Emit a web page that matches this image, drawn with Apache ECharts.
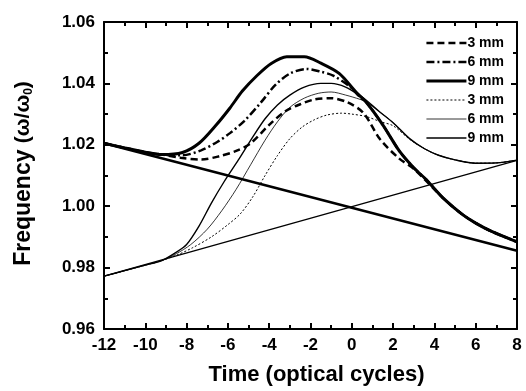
<!DOCTYPE html>
<html lang="en">
<head>
    <meta charset="utf-8" />
    <title>Frequency vs time</title>
    <script src="https://cdn.jsdelivr.net/npm/echarts@6/dist/echarts.min.js"></script>
    <style>
        html, body { margin: 0; height: 100%; background: #FFFFFF; }
        #chart { width: 526px; height: 391px; }
    </style>
</head>
<body>
<div id="chart"></div>
<script>
// time axis (optical cycles) and frequency (w/w0)
var xTicks = [-12, -10, -8, -6, -4, -2, 0, 2, 4, 6, 8];
var yTicks = [0.96, 0.98, 1.00, 1.02, 1.04, 1.06];

// initial chirp lines
var chirpDown = [[-12, 1.0205], [8, 0.9855]];
var chirpUp = [[-12, 0.9772], [8, 1.0149]];

// thick group (starts on the falling line)
var thickHead = [[-12, 1.0205], [-11, 1.019], [-10, 1.0176], [-9.2, 1.0168]];
var thickTail = [[1.5, 1.0265], [2.3, 1.018], [3.0, 1.0125], [3.6, 1.0087], [4.4, 1.0028],
    [5.3, 0.9976], [6.0, 0.9945], [6.8, 0.9917], [8, 0.9884]];
var thick3 = [[-8.3, 1.0158], [-7.3, 1.0152], [-6.4, 1.0163], [-5.6, 1.018], [-4.9, 1.0205],
    [-4.0, 1.0265], [-3.2, 1.031], [-2.5, 1.0332], [-1.8, 1.0348], [-1.0, 1.0352], [-0.2, 1.0338],
    [0.56, 1.0304], [1.37, 1.0218], [2.3, 1.0155], [3.0, 1.0122]];
var thick6 = [[-8.2, 1.0166], [-7.3, 1.0182], [-6.5, 1.021], [-5.9, 1.0238], [-5.2, 1.0278],
    [-4.4, 1.0338], [-3.7, 1.0395], [-3.0, 1.0432], [-2.2, 1.0447], [-1.5, 1.0438], [-0.9, 1.0425],
    [-0.1, 1.039], [0.4, 1.0355], [0.72, 1.0337]];
var thick9 = [[-8.2, 1.0175], [-7.4, 1.0205], [-6.6, 1.0262], [-5.9, 1.032], [-5.3, 1.0375],
    [-4.6, 1.0425], [-3.9, 1.0465], [-3.15, 1.0487], [-2.3, 1.0487], [-1.5, 1.0466], [-0.6, 1.0432],
    [0.2, 1.0372], [0.72, 1.0337]];

// thin group (starts on the rising line)
var thinHead = [[-12, 0.9772], [-11, 0.979], [-10, 0.9808], [-9.2, 0.9823]];
var thinTail = [[3.5, 1.0188], [4.2, 1.0166], [5.0, 1.0151], [6.0, 1.014], [7.0, 1.0141], [8, 1.015]];
var thin3 = [[-8.5, 0.984], [-7.7, 0.9865], [-6.8, 0.99], [-6.0, 0.994], [-5.4, 0.9975],
    [-4.8, 1.003], [-4.2, 1.01], [-3.6, 1.0165], [-3.0, 1.022], [-2.4, 1.0258], [-1.8, 1.0282],
    [-1.2, 1.0297], [-0.5, 1.0303], [0, 1.03], [0.7, 1.0292], [1.4, 1.0275], [2.0, 1.0262], [2.8, 1.0218]];
var thin6 = [[-8.5, 0.9845], [-7.8, 0.9875], [-7.0, 0.9925], [-6.3, 0.9985], [-5.6, 1.0055],
    [-4.9, 1.0135], [-4.2, 1.0215], [-3.6, 1.0275], [-3.0, 1.0322], [-2.3, 1.0352], [-1.6, 1.0368],
    [-1.0, 1.0372], [-0.3, 1.0362], [0.4, 1.0348], [0.7, 1.034], [1.3, 1.031], [2.0, 1.0272], [2.8, 1.022]];
var thin9 = [[-8.5, 0.985], [-8.0, 0.9875], [-7.4, 0.9935], [-6.8, 1.001], [-6.2, 1.0078],
    [-5.5, 1.015], [-4.8, 1.0225], [-4.2, 1.0285], [-3.6, 1.033], [-3.0, 1.0362], [-2.3, 1.0388],
    [-1.5, 1.04], [-1.0, 1.04], [-0.3, 1.0388], [0.4, 1.036], [0.7, 1.0345], [1.3, 1.031],
    [2.0, 1.0272], [2.8, 1.022]];

var legendNames = ['3 mm', '6 mm', '9 mm', '3 mm ', '6 mm ', '9 mm '];
var lineWidths = [2.5, 2.5, 3, 1, 0.8, 1.4];
var lineTypes = [[7, 4], [8, 3, 2, 3], 'solid', [2, 2], 'solid', 'solid'];
var FONT = 'Liberation Sans';

function curve(i, data) {
    return {
        name: legendNames[i],
        type: 'line',
        data: data,
        symbol: 'none',
        smooth: 0.3,
        silent: true,
        itemStyle: { color: '#000' },
        lineStyle: { color: '#000', width: lineWidths[i], type: lineTypes[i] }
    };
}

function chirp(name, data, width) {
    return {
        name: name, type: 'line', data: data, symbol: 'none', silent: true,
        lineStyle: { color: '#000', width: width }
    };
}

var chart = echarts.init(document.getElementById('chart'));

var axisCommon = {
    type: 'value',
    axisLine: { show: true, onZero: false, lineStyle: { color: '#000', width: 2 } },
    axisTick: { show: true, inside: true, length: 6, lineStyle: { color: '#000', width: 2 } },
    minorTick: { show: true, splitNumber: 2, length: 4, lineStyle: { color: '#000', width: 2 } },
    splitLine: { show: false }
};

chart.setOption({
    animation: false,
    grid: { left: 104, right: 9, top: 22, bottom: 60 },
    legend: {
        data: legendNames.map(function (n, i) {
            return { name: n, lineStyle: { color: '#000', width: lineWidths[i], type: lineTypes[i] } };
        }),
        orient: 'vertical',
        right: 17,
        top: 31,
        itemWidth: 40,
        itemHeight: 12,
        itemGap: 5,
        itemStyle: { opacity: 0 },
        textStyle: { fontFamily: FONT, fontWeight: 'bold', fontSize: 14, color: '#000', padding: [0, 0, 0, -4] },
        formatter: function (n) { return n.trim(); },
        selectedMode: false
    },
    xAxis: [
        Object.assign({}, axisCommon, {
            position: 'bottom', min: xTicks[0], max: xTicks[xTicks.length - 1], interval: 2,
            axisLabel: { fontFamily: FONT, fontWeight: 'bold', fontSize: 17, color: '#000', margin: 8 },
            name: 'Time (optical cycles)', nameLocation: 'middle', nameGap: 35,
            nameTextStyle: { fontFamily: FONT, fontWeight: 'bold', fontSize: 22, color: '#000', padding: [0, 0, 0, 12] }
        }),
        Object.assign({}, axisCommon, {
            position: 'top', min: xTicks[0], max: xTicks[xTicks.length - 1], interval: 2,
            axisLabel: { show: false }
        })
    ],
    yAxis: [
        Object.assign({}, axisCommon, {
            position: 'left', min: yTicks[0], max: yTicks[yTicks.length - 1], interval: 0.02,
            axisLabel: {
                fontFamily: FONT, fontWeight: 'bold', fontSize: 17, color: '#000', margin: 9,
                formatter: function (v) { return v.toFixed(2); }
            },
            name: '{a|Frequency }{b|(ω/ω}{s|0}{b|)}', nameLocation: 'middle', nameGap: 69, nameRotate: 90,
            nameTextStyle: {
                rich: {
                    a: { fontFamily: FONT, fontWeight: 'bold', fontSize: 23, color: '#000', padding: [0, 0, 0, 4] },
                    b: { fontFamily: FONT, fontWeight: 'bold', fontSize: 21, color: '#000' },
                    s: { fontFamily: FONT, fontWeight: 'bold', fontSize: 12, color: '#000', verticalAlign: 'bottom', padding: [10, 0, 0, 0] }
                }
            }
        }),
        Object.assign({}, axisCommon, {
            position: 'right', min: yTicks[0], max: yTicks[yTicks.length - 1], interval: 0.02,
            axisLabel: { show: false }
        })
    ],
    series: [
        chirp('chirpDown', chirpDown, 2.5),
        chirp('chirpUp', chirpUp, 1.3),
        curve(0, thickHead.concat(thick3, thickTail.slice(4))),
        curve(1, thickHead.concat(thick6, thickTail)),
        curve(2, thickHead.concat(thick9, thickTail)),
        curve(3, thinHead.concat(thin3, thinTail)),
        curve(4, thinHead.concat(thin6, thinTail)),
        curve(5, thinHead.concat(thin9, thinTail))
    ]
});
</script>
</body>
</html>
